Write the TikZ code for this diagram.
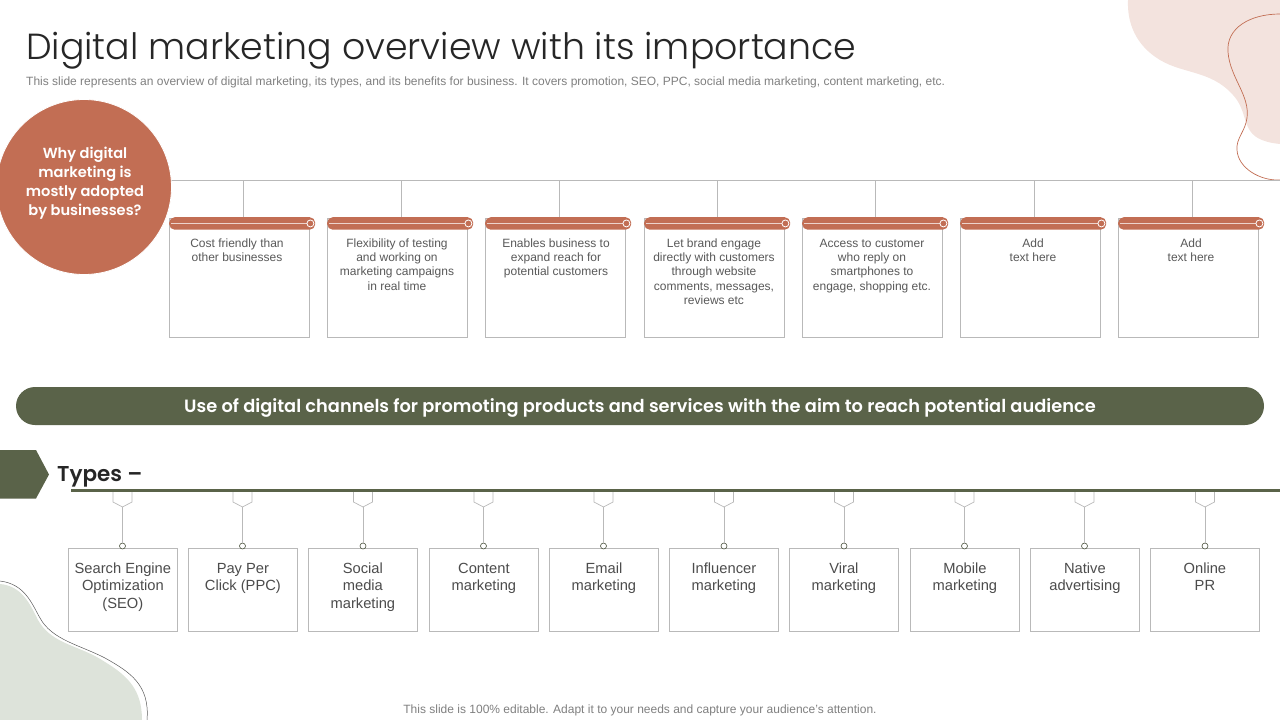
\documentclass[tikz,border=0pt]{standalone}
\usepackage{fontspec}
\setmainfont{Liberation Sans}
\newfontfamily\headfont{Poppins}
\newfontfamily\titlefont{Poppins Light}
\newfontfamily\semifont{Poppins SemiBold}
\usetikzlibrary{calc}
\definecolor{terra}{HTML}{C26E54}
\definecolor{olive}{HTML}{5A6349}
\definecolor{pinkblob}{HTML}{F3E3DE}
\definecolor{sageblob}{HTML}{DDE3DA}
\definecolor{rulegrey}{HTML}{B9B9B9}
\definecolor{txtgrey}{HTML}{595959}
\definecolor{subgrey}{HTML}{7F7F7F}
\tikzset{
 x=1pt,y=-1pt,
 cardbox/.style={draw=rulegrey,line width=.8pt,fill=white,minimum width=139.8pt,minimum height=119.5pt,anchor=north west,inner sep=0pt},
 cardbar/.style={fill=terra,rounded corners=5.5pt,minimum width=146pt,minimum height=12.5pt,anchor=north west,inner sep=0pt},
 cardtext/.style={anchor=north,align=center,text=txtgrey,inner sep=0pt,font=\fontsize{12}{14.3}\selectfont},
 typebox/.style={draw=rulegrey,line width=.8pt,fill=white,minimum width=109pt,minimum height=83pt,anchor=north west,inner sep=0pt},
 typetext/.style={anchor=north,align=center,text=txtgrey!85!black,inner sep=0pt,font=\fontsize{14.7}{17.7}\selectfont},
 tagshape/.style={draw=rulegrey,line width=.7pt,fill=white},
 ringdot/.style={circle,draw=white,line width=.8pt,minimum size=7pt,inner sep=0pt},
 typedot/.style={circle,draw=olive!80!black,line width=.6pt,fill=white,minimum size=6pt,inner sep=0pt},
 conn/.style={draw=rulegrey,line width=.8pt},
}
\begin{document}
\begin{tikzpicture}
\useasboundingbox (0,0) rectangle (1280,720);
% decorative blobs
\fill[pinkblob] (1128,0) .. controls (1127,22) and (1135,45) .. (1160,60) .. controls (1185,75) and (1215,70) .. (1237,100) .. controls (1250,120) and (1240,140) .. (1280,144) -- (1280,0) -- cycle;
\draw[terra,line width=.7pt] (1280,14) .. controls (1250,14) and (1226,28) .. (1228,52) .. controls (1230,78) and (1250,95) .. (1247,118) .. controls (1245,132) and (1236,138) .. (1237,150) .. controls (1238,168) and (1260,181) .. (1280,180);
\fill[sageblob] (0,584) .. controls (22,586) and (30,604) .. (38,620) .. controls (52,645) and (80,645) .. (105,662) .. controls (128,676) and (142,690) .. (142,720) -- (0,720) -- cycle;
\draw[black!65,line width=.5pt] (0,581) .. controls (25,584) and (32,604) .. (40,618) .. controls (52,640) and (80,645) .. (105,658) .. controls (130,672) and (150,685) .. (147,720);
% title
\node[anchor=west,inner sep=0pt,text=black!85,font=\titlefont\fontsize{36.3}{40}\selectfont] (title) at (26,51) {Digital marketing overview with its importance};
\node[anchor=west,inner sep=0pt,text=subgrey,font=\fontsize{12}{14}\selectfont] (subtitle) at (26,82) {This slide represents an overview of digital marketing, its types, and its benefits for business. It covers promotion, SEO, PPC, social media marketing, content marketing, etc.};
% cards
\coordinate (trunkL) at (160,180);
\coordinate (trunkR) at (1280,180);
\draw[conn] (trunkL) -- (trunkR);
\foreach \i/\xx/\tx/\cc/\txt in {
 1/169/237/243/{Cost friendly than\\other businesses},
 2/327/397/401/{Flexibility of testing\\and working on\\marketing campaigns\\in real time},
 3/485/556/559/{Enables business to\\expand reach for\\potential customers},
 4/644/714/717/{Let brand engage\\directly with customers\\through website\\comments, messages,\\reviews etc},
 5/802/872/875/{Access to customer\\who reply on\\smartphones to\\engage, shopping etc.},
 6/960/1033/1034/{Add\\text here},
 7/1118/1191/1192/{Add\\text here}}{
 \node[cardbox] (card\i) at (\xx,217.5) {};
 \coordinate (drop\i) at (\cc,180);
 \draw[conn] (drop\i) -- (\cc,217.5);
 \node[cardbar] (bar\i) at (\xx,217) {};
 \draw[white!70!terra,line width=.5pt] ($(bar\i.west)+(2,-.5)$) -- ($(bar\i.east)+(-8,-.5)$);
 \node[ringdot] (ring\i) at ($(bar\i.east)+(-5,0)$) {};
 \node[cardtext] (cardlabel\i) at (\tx,237) {\rule{0pt}{10pt}\txt};
}
% circle
\node[circle,fill=terra,draw=white,line width=.8pt,minimum size=175pt,inner sep=0pt] (why) at (84,187) {};
\node[align=center,text=white,inner sep=0pt,font=\semifont\fontsize{14.6}{19}\selectfont] (whytxt) at (85,183) {Why digital\\marketing is\\mostly adopted\\by businesses?};
% banner
\node[fill=olive,rounded corners=19pt,minimum width=1248pt,minimum height=38pt,inner sep=0pt] (banner) at (640,406) {};
\node[inner sep=0pt,text=white,font=\semifont\fontsize{17.8}{20}\selectfont] (bannertxt) at (640,408) {Use of digital channels for promoting products and services with the aim to reach potential audience};
% types header
\fill[olive] (0,450) -- (36,450) -- (49,474.5) -- (36,498.5) -- (0,498.5) -- cycle;
\node[anchor=west,inner sep=0pt,text=black!85,font=\semifont\fontsize{21.5}{26}\selectfont] (types) at (57,477) {Types –};
\coordinate (ruleL) at (71,490.5);
\coordinate (ruleR) at (1280,490.5);
% type cards
\foreach \i/\xx/\cc/\txt in {
 1/68/122.5/{Search Engine\\Optimization\\(SEO)},
 2/188/242.5/{Pay Per\\Click (PPC)},
 3/308/363/{Social\\media\\marketing},
 4/429/483.5/{Content\\marketing},
 5/549/603.5/{Email\\marketing},
 6/669/724/{Influencer\\marketing},
 7/789/844/{Viral\\marketing},
 8/910/964.5/{Mobile\\marketing},
 9/1030/1084.5/{Native\\advertising},
 10/1150/1205/{Online\\PR}}{
 \node[typebox] (type\i) at (\xx,548) {};
 \node[typedot] (tdot\i) at (\cc,546) {};
 \coordinate (ttip\i) at (\cc,507);
 \draw[conn,line width=.7pt] (ttip\i) -- (tdot\i);
 \draw[tagshape] ($(ttip\i)+(-9.5,-16)$) -- ($(ttip\i)+(-9.5,-5)$) -- (ttip\i) -- ($(ttip\i)+(9.5,-5)$) -- ($(ttip\i)+(9.5,-16)$);
 \node[typetext] (typelabel\i) at ($(type\i.north)+(0,13)$) {\rule{0pt}{12pt}\txt};
}
\draw[olive,line width=3pt] (ruleL) -- (ruleR);
% footer
\node[text=subgrey,inner sep=0pt,font=\fontsize{12}{14}\selectfont] (footer) at (640,710) {This slide is 100\% editable. Adapt it to your needs and capture your audience's attention.};
\end{tikzpicture}
\end{document}
